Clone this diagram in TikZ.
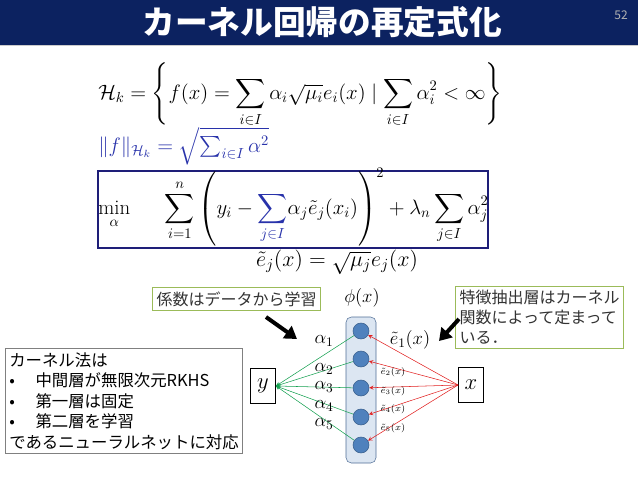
\RequirePackage{fix-cm}
\documentclass[tikz,border=0pt]{standalone}
\usepackage{amsmath,amssymb}
\usepackage{fontspec}
\usetikzlibrary{arrows.meta}
\newfontfamily\jp{Noto Sans CJK JP}
\definecolor{titlenavy}{RGB}{12,34,96}
\definecolor{calloutgreen}{RGB}{155,187,89}
\definecolor{boxnavy}{RGB}{30,30,120}
\definecolor{formblue}{RGB}{40,50,170}
\definecolor{colfill}{RGB}{220,230,242}
\definecolor{colborder}{RGB}{80,110,150}
\definecolor{unitfill}{RGB}{79,129,189}
\definecolor{unitborder}{RGB}{56,93,138}
\definecolor{wgreen}{RGB}{20,160,80}
\definecolor{wred}{RGB}{225,30,30}

\begin{document}
\begin{tikzpicture}[x=0.75pt, y=-0.75pt]
\tikzstyle{callout} = [draw=calloutgreen, line width=0.8pt, fill=white, anchor=north west, align=left, inner sep=3pt, text=black!80, font=\jp\fontsize{12}{15}\selectfont]
\tikzstyle{formula} = [anchor=west, inner sep=0pt, font=\fontsize{15.6}{19}\selectfont]
\tikzstyle{unit} = [circle, draw=unitborder, fill=unitfill, minimum size=12pt, inner sep=0pt]
\tikzstyle{io} = [rectangle, draw, fill=white, minimum width=19pt, minimum height=26pt, inner sep=0pt, font=\fontsize{17}{20}\selectfont]
\tikzstyle{greenedge} = [wgreen, ->, >=stealth]
\tikzstyle{rededge} = [wred, ->, >=stealth]
\tikzstyle{bigarrow} = [line width=3pt, -{Triangle[length=9pt,width=11pt]}]

\useasboundingbox (0,0) rectangle (638,479);

% title bar
\fill[titlenavy] (0,0) rectangle (638,45);
\draw[gray!40, line width=1pt] (0,45.5) -- (638,45.5);
\node[text=white, font=\jp\bfseries\fontsize{24.5}{28}\selectfont] (title) at (322,22) {カーネル回帰の再定式化};
\node[text=gray!60, font=\jp\fontsize{9}{10}\selectfont] (page) at (621,15) {52};

% formulas
\node[formula] (hk) at (98,95) {$\displaystyle \mathcal{H}_k = \left\{ f(x) = \sum_{i\in I}\alpha_i\sqrt{\mu_i}e_i(x) \mid \sum_{i\in I}\alpha_i^2<\infty \right\}$};
\node[formula, text=formblue] (norm) at (98,146) {$\|f\|_{\mathcal{H}_k} = \sqrt{\textstyle\sum_{i\in I}\alpha^2}$};
\draw[boxnavy, line width=0.8pt] (98,171) rectangle (488,248);
\node[formula] (minf) at (98,207) {$\displaystyle \min_{\alpha}\hspace{1.5em} \sum_{i=1}^{n}\left( y_i - {\color{formblue}\sum_{j\in I}}\alpha_j\tilde e_j(x_i)\right)^{2} + \lambda_n\sum_{j\in I}\alpha_j^2$};
\node[formula, anchor=center, font=\fontsize{16.5}{19}\selectfont] (etilde) at (337,262) {$\tilde e_j(x) = \sqrt{\mu_j}e_j(x)$};

% callouts
\node[callout] (coef) at (152,287) {係数はデータから学習};
\node[callout] (feat) at (455,286) {特徴抽出層はカーネル\\関数によって定まって\\いる．};
\node[draw=gray, anchor=north west, align=left, inner sep=3pt, font=\jp\fontsize{12.3}{15.4}\selectfont] (summary) at (5,348) {カーネル法は\\
\makebox[1.6em][l]{•}中間層が無限次元RKHS\\
\makebox[1.6em][l]{•}第一層は固定\\
\makebox[1.6em][l]{•}第二層を学習\\
であるニューラルネットに対応};

\coordinate (coefs) at (266,317);
\coordinate (coefe) at (297,339);
\draw[bigarrow] (coefs) -- (coefe);
\coordinate (feats) at (459,319);
\coordinate (feate) at (439,341);
\draw[bigarrow] (feats) -- (feate);

% network
\node[draw=colborder, fill=colfill, rounded corners=4pt, minimum width=22.5pt, minimum height=109.5pt] (phi) at (361,390) {};
\node[font=\fontsize{14}{16}\selectfont] (philabel) at (362,298) {$\phi(x)$};
\foreach \i/\yy in {1/331,2/359,3/388,4/417,5/445}
  \node[unit] (u\i) at (361,\yy) {};
\node[io] (yout) at (263,386) {$y$};
\node[io] (xin) at (471,385) {$x$};
\foreach \i in {1,...,5} {
  \draw[greenedge] (u\i) -- (yout.east);
  \draw[rededge] (xin.west) -- (u\i);
}
\foreach \i/\yy in {1/341,2/369,3/387,4/406,5/424}
  \node[font=\fontsize{14}{16}\selectfont] (a\i) at (324,\yy) {$\alpha_\i$};
\node[font=\fontsize{14}{16}\selectfont] (e1) at (410,340) {$\tilde e_1(x)$};
\foreach \i/\yy in {2/372,3/391,4/409,5/428}
  \node[font=\fontsize{7}{8}\selectfont] (e\i) at (393,\yy) {$\tilde e_\i(x)$};
\end{tikzpicture}
\end{document}
